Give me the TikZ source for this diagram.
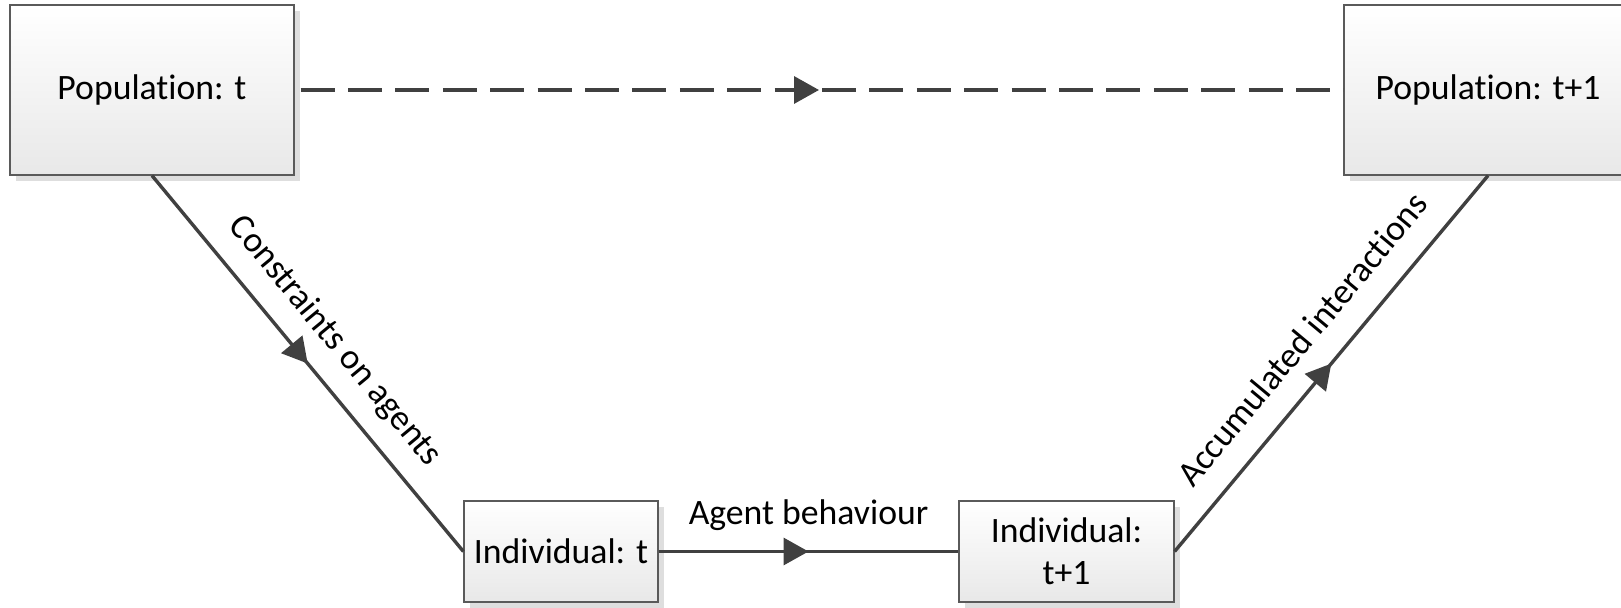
\documentclass[tikz,border=0pt]{standalone}
\usepackage{fontspec}
\setmainfont[Ligatures={NoCommon,NoRare,NoContextual}]{Carlito}
\usetikzlibrary{arrows.meta,decorations.markings,shadows}

\definecolor{linegray}{HTML}{404040}
\definecolor{edgegray}{HTML}{5A5A5A}
\definecolor{shadowgray}{HTML}{DEDEDE}

\begin{document}
\begin{tikzpicture}[x=0.5pt,y=-0.5pt,
  box/.style={draw=edgegray, line width=0.6pt,
    top color=white, bottom color=black!9,
    drop shadow={shadow xshift=3pt, shadow yshift=-3pt, fill=shadowgray, opacity=1},
    font=\fontsize{17.85}{21}\selectfont, align=center, inner sep=0pt},
  conn/.style={draw=linegray, line width=1.7pt, postaction={decorate},
    decoration={markings, mark=at position 0.5 with {\arrow{Triangle[length=12.5pt,width=13.5pt]}}}},
  lbl/.style={font=\fontsize{17.85}{21}\selectfont, anchor=base, inner sep=0pt}]

\useasboundingbox (0,0) rectangle (1621,608);
\clip (0,0) rectangle (1621,608);

% population and individual states
\node[box, minimum width=142pt, minimum height=85pt] (popt) at (152,90) {Population: t};
\node[box, minimum width=144pt, minimum height=85pt] (popnext) at (1488,90) {Population: t+1};
\node[box, minimum width=97pt, minimum height=50.5pt] (indt) at (561,551.5) {Individual: t};
\node[box, minimum width=107.5pt, minimum height=50.5pt] (indnext) at (1066.5,551.5) {Individual:\\t+1};

% transitions
\draw[conn, dash pattern=on 17pt off 6.7pt, shorten <=3pt] (popt.east) -- (popnext.west);
\draw[conn] (popt.south) -- node[lbl, sloped, yshift=13pt] {Constraints on agents} (indt.west);
\draw[conn] (indt.east) -- node[lbl, yshift=13.5pt] {Agent behaviour} (indnext.west);
\draw[conn] (indnext.east) -- node[lbl, sloped, yshift=13pt] {Accumulated interactions} (popnext.south);

\end{tikzpicture}
\end{document}
